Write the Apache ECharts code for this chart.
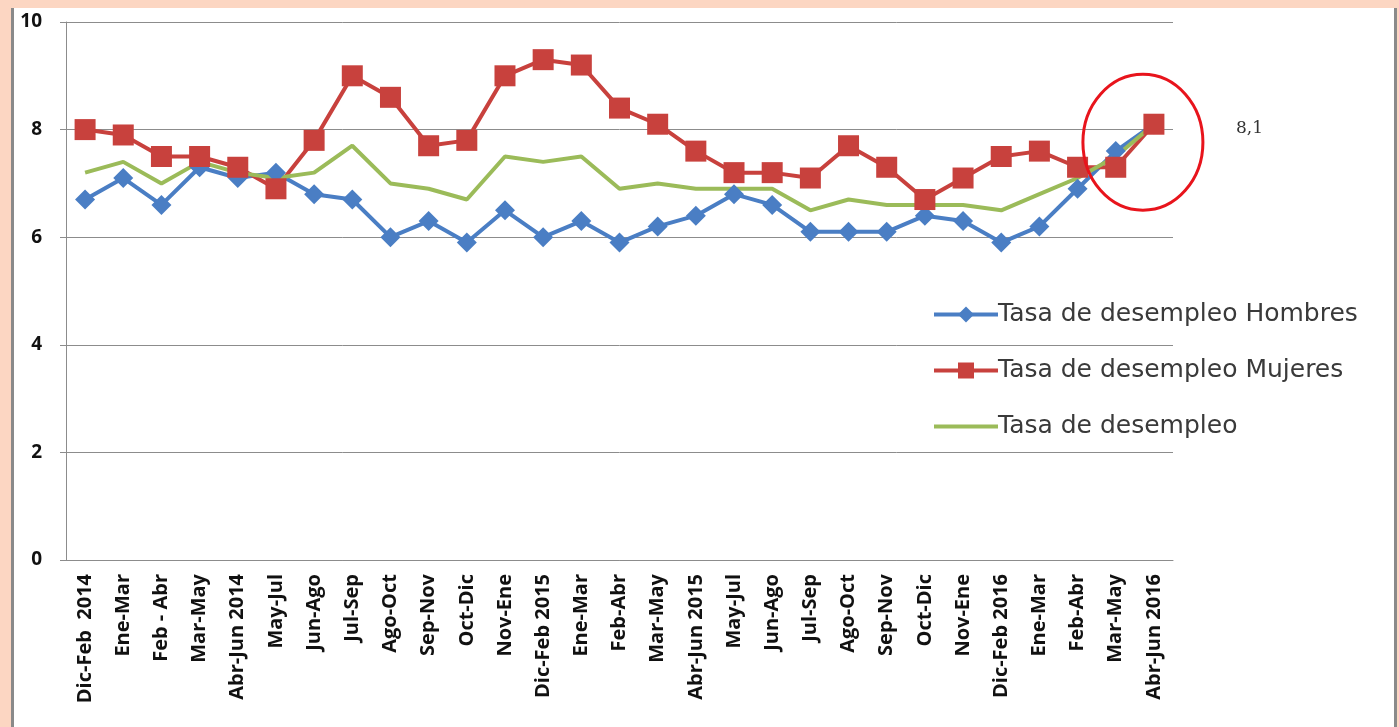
<!DOCTYPE html>
<html>
<head>
<meta charset="utf-8">
<script src="https://cdn.jsdelivr.net/npm/echarts@6/dist/echarts.min.js"></script>
<style>
  html, body { margin: 0; padding: 0; width: 1399px; height: 727px; overflow: hidden; background: #fcd6c2; }
  #panel { position: absolute; left: 11px; top: 8px; width: 1380px; height: 730px; background: #ffffff;
           border-left: 3px solid #8a8a8a; border-right: 3px solid #8a8a8a; }
  #chart { position: absolute; left: 0; top: 0; width: 1399px; height: 727px; }
</style>
</head>
<body>
<div id="panel"></div>
<div id="chart"></div>
<script>
const categories = ['Dic-Feb  2014','Ene-Mar','Feb - Abr','Mar-May','Abr-Jun 2014','May-Jul','Jun-Ago','Jul-Sep','Ago-Oct','Sep-Nov','Oct-Dic','Nov-Ene','Dic-Feb 2015','Ene-Mar','Feb-Abr','Mar-May','Abr-Jun 2015','May-Jul','Jun-Ago','Jul-Sep','Ago-Oct','Sep-Nov','Oct-Dic','Nov-Ene','Dic-Feb 2016','Ene-Mar','Feb-Abr','Mar-May','Abr-Jun 2016'];
const hombres = [6.7,7.1,6.6,7.3,7.1,7.2,6.8,6.7,6.0,6.3,5.9,6.5,6.0,6.3,5.9,6.2,6.4,6.8,6.6,6.1,6.1,6.1,6.4,6.3,5.9,6.2,6.9,7.6,8.1];
const mujeres = [8.0,7.9,7.5,7.5,7.3,6.9,7.8,9.0,8.6,7.7,7.8,9.0,9.3,9.2,8.4,8.1,7.6,7.2,7.2,7.1,7.7,7.3,6.7,7.1,7.5,7.6,7.3,7.3,8.1];
const total   = [7.2,7.4,7.0,7.4,7.2,7.1,7.2,7.7,7.0,6.9,6.7,7.5,7.4,7.5,6.9,7.0,6.9,6.9,6.9,6.5,6.7,6.6,6.6,6.6,6.5,6.8,7.1,7.5,8.1];
const seriesNames = ['Tasa de desempleo Hombres','Tasa de desempleo Mujeres','Tasa de desempleo'];
const yTicks = [0,2,4,6,8,10];
const annotationText = '8,1';

const chart = echarts.init(document.getElementById('chart'), null, { renderer: 'canvas' });
const option = {
  backgroundColor: 'transparent',
  animation: false,
  grid: { left: 66, right: 226, top: 22, bottom: 167, containLabel: false },
  legend: {
    orient: 'vertical', left: 927, top: 297, itemGap: 31, itemWidth: 64, itemHeight: 20,
    lineStyle: { width: 4 },
    textStyle: { fontSize: 25, color: '#3a3a3a', fontFamily: 'DejaVu Sans', padding: [0,0,0,-5] },
    data: [
      { name: seriesNames[0] },
      { name: seriesNames[1] },
      { name: seriesNames[2], itemStyle: { opacity: 0 } }
    ]
  },
  xAxis: {
    type: 'category', data: categories, boundaryGap: true,
    axisLine: { lineStyle: { color: '#8c8c8c', width: 1 } },
    axisTick: { show: false },
    axisLabel: { rotate: 90, interval: 0, fontSize: 20, fontWeight: 'bold', color: '#111', fontFamily: 'Open Sans', margin: 14 }
  },
  yAxis: {
    type: 'value', min: yTicks[0], max: yTicks[yTicks.length-1], interval: 2,
    axisLine: { show: true, lineStyle: { color: '#8c8c8c', width: 1 } },
    axisTick: { show: true, length: 6, lineStyle: { color: '#8c8c8c' } },
    splitLine: { lineStyle: { color: '#8c8c8c', width: 1 } },
    axisLabel: { fontSize: 19, fontWeight: 'bold', color: '#111', fontFamily: 'Open Sans', margin: 24 }
  },
  series: [
    { name: seriesNames[0], type: 'line', data: hombres, symbol: 'diamond', symbolSize: 20,
      lineStyle: { color: '#4a7ec4', width: 4 }, itemStyle: { color: '#4a7ec4' } },
    { name: seriesNames[1], type: 'line', data: mujeres, symbol: 'rect', symbolSize: 21,
      lineStyle: { color: '#c8413d', width: 4 }, itemStyle: { color: '#c8413d' } },
    { name: seriesNames[2], type: 'line', data: total, symbol: 'none',
      lineStyle: { color: '#9bbb59', width: 4 }, itemStyle: { color: '#9bbb59' } }
  ]
};
chart.setOption(option);

const last = categories.length - 1;
const p = chart.convertToPixel({ gridIndex: 0 }, [last, mujeres[last]]);
chart.setOption({
  graphic: [
    { type: 'ellipse', shape: { cx: p[0] - 11, cy: p[1] + 18, rx: 60, ry: 68 },
      style: { fill: 'none', stroke: '#e8141c', lineWidth: 3 }, z: 100 },
    { type: 'text', x: p[0] + 82, y: p[1] + 4,
      style: { text: annotationText, fontSize: 17, fill: '#333', fontFamily: 'DejaVu Serif', verticalAlign: 'middle' }, z: 100 }
  ]
});
</script>
</body>
</html>
